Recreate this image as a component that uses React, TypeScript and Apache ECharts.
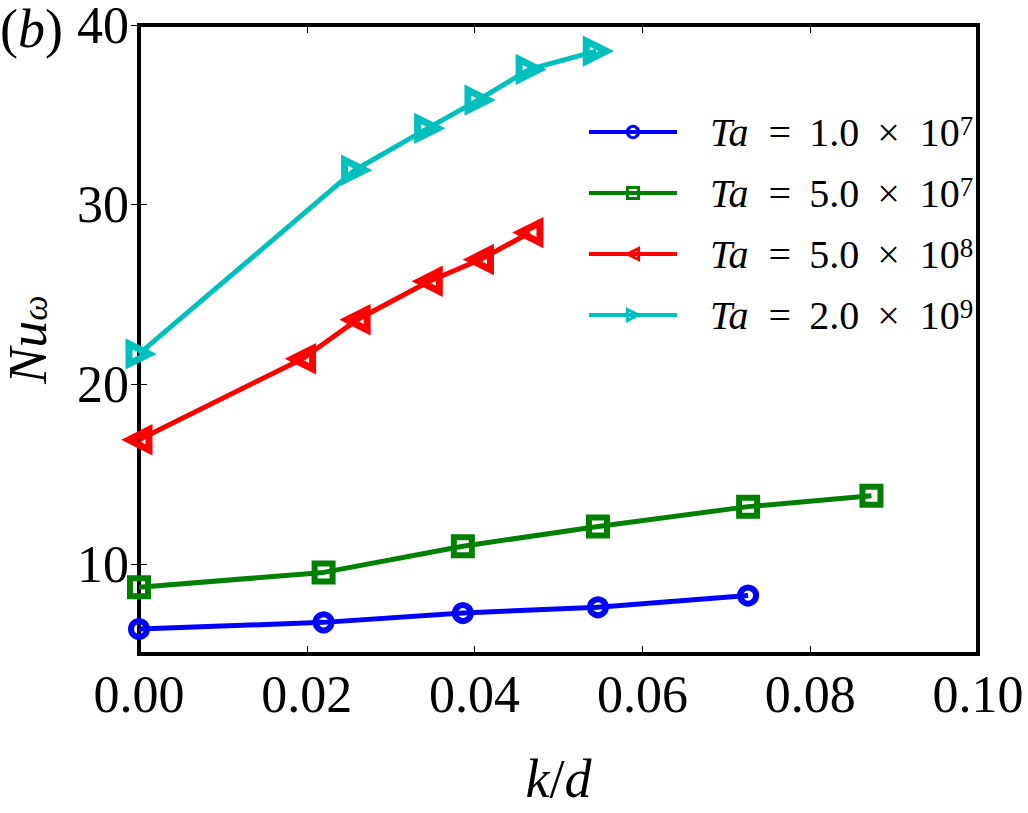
import React, { useEffect, useRef } from "react";
import * as echarts from "echarts";

const xTicks = [0, 0.02, 0.04, 0.06, 0.08, 0.1];
const yTicks = [10, 20, 30, 40];

const blueX = [0, 0.022, 0.0386, 0.0547, 0.0726];
const blueY = [6.39, 6.76, 7.28, 7.6, 8.25];
const greenX = [0, 0.022, 0.0386, 0.0547, 0.0726, 0.0873];
const greenY = [8.71, 9.54, 11.0, 12.09, 13.2, 13.8];
const redX = [0, 0.0195, 0.026, 0.0346, 0.0407, 0.0466];
const redY = [16.92, 21.43, 23.6, 25.74, 26.95, 28.45];
const cyanX = [0, 0.0257, 0.0344, 0.0404, 0.0465, 0.0545];
const cyanY = [21.7, 31.92, 34.25, 35.82, 37.53, 38.55];

const seriesNames = ["1.0|7", "5.0|7", "5.0|8", "2.0|9"];
const seriesColors = ["#0000ff", "#008000", "#ff0000", "#00bfbf"];

const SERIF = "'Liberation Serif', 'DejaVu Serif', serif";

function pairs(xs: number[], ys: number[]) {
  return xs.map((x, i) => [x, ys[i]]);
}

export default function App() {
  const ref = useRef<HTMLDivElement>(null);
  useEffect(() => {
    if (!ref.current) return;
    const chart = echarts.init(ref.current, null, { renderer: "svg" });
    const datasets = [
      pairs(blueX, blueY),
      pairs(greenX, greenY),
      pairs(redX, redY),
      pairs(cyanX, cyanY),
    ];
    const symbols = ["circle", "rect", "triangle", "triangle"];
    const sizes = [16, 18, 20, 20];
    const rotates = [0, 0, 90, -90];
    const borders = [6, 6, 7, 7];
    const series = datasets.map((d, i) => ({
      type: "line",
      name: seriesNames[i],
      data: d,
      symbol: symbols[i],
      symbolSize: sizes[i],
      symbolRotate: rotates[i],
      showAllSymbol: true,
      lineStyle: { color: seriesColors[i], width: 5 },
      itemStyle: {
        color: "rgba(255,255,255,0)",
        borderColor: seriesColors[i],
        borderWidth: borders[i],
      },
      emphasis: { disabled: true },
      z: 2 + i,
    }));
    const tickStyle = { show: true, inside: true, length: 8, lineStyle: { color: "#000", width: 1 } };
    chart.setOption({
      animation: false,
      backgroundColor: "#fff",
      grid: {
        left: 139,
        right: 50,
        top: 25,
        bottom: 159,
        outerBoundsMode: "none",
        containLabel: false,
        show: true,
        borderColor: "#000",
        borderWidth: 4,
        backgroundColor: "transparent",
      },
      legend: {
        orient: "vertical",
        left: 587,
        top: 112,
        padding: 0,
        itemGap: 20,
        itemWidth: 88,
        itemHeight: 14,
        lineStyle: { width: 4 },
        itemStyle: { borderWidth: 3 },
        data: seriesNames,
        formatter: (name: string) => {
          const [m, e] = name.split("|");
          return `{i|Ta}{n|  = \u2009${m} \u2009×  10}{s|${e}}`;
        },
        textStyle: {
          color: "#000",
          padding: [0, 0, 0, 28],
          rich: {
            i: { fontFamily: SERIF, fontStyle: "italic", fontSize: 40, color: "#000", lineHeight: 40 },
            n: { fontFamily: SERIF, fontSize: 40, color: "#000", lineHeight: 40 },
            s: { fontFamily: SERIF, fontSize: 27, color: "#000", lineHeight: 40, verticalAlign: "top", padding: [0, 0, 14, 0] },
          },
        },
      },
      xAxis: [
        {
          type: "value",
          min: 0,
          max: 0.1,
          interval: 0.02,
          position: "bottom",
          splitLine: { show: false },
          axisLine: { show: false },
          axisTick: tickStyle,
          axisLabel: {
            color: "#000",
            fontFamily: SERIF,
            fontSize: 52,
            margin: 14,
            formatter: (v: number) => v.toFixed(2),
          },
          name: "{i|k}{n|/}{i|d}",
          nameLocation: "middle",
          nameGap: 98,
          nameTextStyle: {
            rich: {
              i: { fontFamily: SERIF, fontStyle: "italic", fontSize: 54, color: "#000" },
              n: { fontFamily: SERIF, fontSize: 54, color: "#000" },
            },
          },
        },
        {
          type: "value",
          min: 0,
          max: 0.1,
          interval: 0.02,
          position: "top",
          splitLine: { show: false },
          axisLine: { show: false },
          axisTick: tickStyle,
          axisLabel: { show: false },
        },
      ],
      yAxis: [
        {
          type: "value",
          min: 5,
          max: 40,
          position: "left",
          splitLine: { show: false },
          axisLine: { show: false },
          axisTick: { ...tickStyle, customValues: yTicks },
          axisLabel: {
            color: "#000",
            fontFamily: SERIF,
            fontSize: 52,
            lineHeight: 44,
            margin: 10,
            customValues: yTicks,
          },
          name: "{i|Nu}{s|ω}",
          nameLocation: "middle",
          nameRotate: 90,
          nameGap: 86,
          nameTextStyle: {
            rich: {
              i: { fontFamily: SERIF, fontStyle: "italic", fontSize: 54, color: "#000", lineHeight: 50 },
              s: { fontFamily: SERIF, fontStyle: "italic", fontSize: 36, color: "#000", lineHeight: 50, verticalAlign: "bottom", padding: [12, 0, 0, 0] },
            },
          },
        },
        {
          type: "value",
          min: 5,
          max: 40,
          position: "right",
          splitLine: { show: false },
          axisLine: { show: false },
          axisTick: { ...tickStyle, customValues: yTicks },
          axisLabel: { show: false },
        },
      ],
      graphic: [
        {
          type: "text",
          left: 0,
          top: 2,
          style: {
            text: "({i|b})",
            fontFamily: SERIF,
            fontSize: 54,
            fill: "#000",
            rich: {
              i: { fontFamily: SERIF, fontStyle: "italic", fontSize: 54, color: "#000" },
            },
          },
        },
      ],
      series,
    });
    return () => chart.dispose();
  }, []);
  return (
    <div
      ref={ref}
      style={{ position: "fixed", left: 0, top: 0, width: 1028, height: 813, background: "#fff" }}
    />
  );
}
